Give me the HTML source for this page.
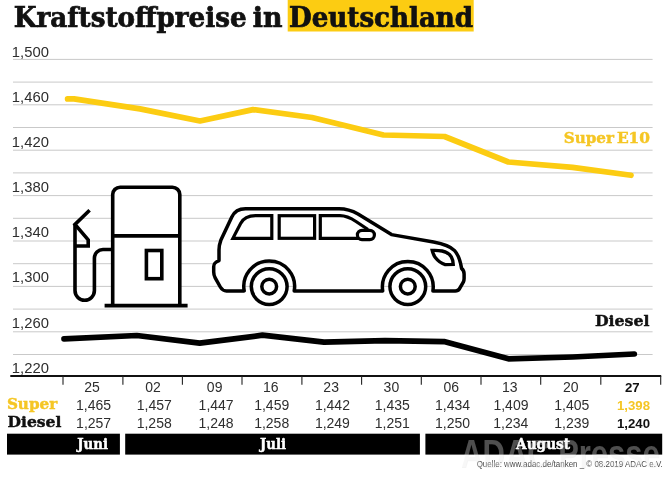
<!DOCTYPE html>
<html lang="de"><head><meta charset="utf-8"><title>Kraftstoffpreise in Deutschland</title>
<style>
html,body{margin:0;padding:0;background:#fff}
body{width:668px;height:482px;overflow:hidden}
svg{display:block}
.slab{font-family:"DejaVu Serif","Liberation Serif",serif;font-weight:bold}
.slabc{font-family:"DejaVu Serif Condensed","DejaVu Serif","Liberation Serif",serif;font-weight:bold}
.sans{font-family:"Liberation Sans",sans-serif}
.num{font-family:"Liberation Sans",sans-serif}
.numb{font-family:"Liberation Sans",sans-serif;font-weight:bold}
</style></head><body>
<svg width="668" height="482" viewBox="0 0 668 482">
<rect width="668" height="482" fill="#fff"/>

<rect x="287.7" y="0" width="186" height="31.5" fill="#FCCC12"/>
<text class="slabc" y="27" font-size="27.8" fill="#111" stroke="#111" stroke-width="0.7"><tspan x="13.78" textLength="232.79" lengthAdjust="spacingAndGlyphs">Kraftstoffpreise</tspan> <tspan x="252.89" textLength="29.62" lengthAdjust="spacingAndGlyphs">in</tspan> <tspan x="289.08" textLength="184.01" lengthAdjust="spacingAndGlyphs">Deutschland</tspan></text>
<g stroke="#c9c9c9" stroke-width="1">
<line x1="13" y1="59.4" x2="652.6" y2="59.4"/>
<line x1="13" y1="82.1" x2="652.6" y2="82.1"/>
<line x1="13" y1="104.8" x2="652.6" y2="104.8"/>
<line x1="13" y1="127.5" x2="652.6" y2="127.5"/>
<line x1="13" y1="150.2" x2="652.6" y2="150.2"/>
<line x1="13" y1="172.9" x2="652.6" y2="172.9"/>
<line x1="13" y1="195.6" x2="652.6" y2="195.6"/>
<line x1="13" y1="218.3" x2="652.6" y2="218.3"/>
<line x1="13" y1="241.0" x2="652.6" y2="241.0"/>
<line x1="13" y1="263.7" x2="652.6" y2="263.7"/>
<line x1="13" y1="286.4" x2="652.6" y2="286.4"/>
<line x1="13" y1="309.1" x2="652.6" y2="309.1"/>
<line x1="13" y1="331.8" x2="652.6" y2="331.8"/>
<line x1="13" y1="354.5" x2="652.6" y2="354.5"/>
</g>
<text class="num" x="11.86" y="56.6" font-size="14.8" fill="#2e2e2e">1,500</text>
<text class="num" x="11.86" y="101.8" font-size="14.8" fill="#2e2e2e">1,460</text>
<text class="num" x="11.86" y="146.9" font-size="14.8" fill="#2e2e2e">1,420</text>
<text class="num" x="11.86" y="192.0" font-size="14.8" fill="#2e2e2e">1,380</text>
<text class="num" x="11.86" y="237.2" font-size="14.8" fill="#2e2e2e">1,340</text>
<text class="num" x="11.86" y="282.4" font-size="14.8" fill="#2e2e2e">1,300</text>
<text class="num" x="11.86" y="327.5" font-size="14.8" fill="#2e2e2e">1,260</text>
<text class="num" x="11.86" y="372.7" font-size="14.8" fill="#2e2e2e">1,220</text>
<line x1="10.3" y1="375.9" x2="661.2" y2="375.9" stroke="#111" stroke-width="2"/>
<g stroke="#222" stroke-width="1.1">
<line x1="63" y1="376" x2="63" y2="384.7"/>
<line x1="122.9" y1="376" x2="122.9" y2="384.7"/>
<line x1="182.4" y1="376" x2="182.4" y2="384.7"/>
<line x1="242" y1="376" x2="242" y2="384.7"/>
<line x1="301.9" y1="376" x2="301.9" y2="384.7"/>
<line x1="361.6" y1="376" x2="361.6" y2="384.7"/>
<line x1="421.3" y1="376" x2="421.3" y2="384.7"/>
<line x1="481" y1="376" x2="481" y2="384.7"/>
<line x1="540.7" y1="376" x2="540.7" y2="384.7"/>
<line x1="600.8" y1="376" x2="600.8" y2="384.7"/>
<line x1="660.7" y1="376" x2="660.7" y2="384.7"/>
</g>
<polyline fill="none" stroke="#FCCC12" stroke-width="5.7" stroke-linecap="round" stroke-linejoin="round" points="67.6,98.9 74,98.9 140,108.9 200,121 253,109.6 312,117.5 383.5,135 444.5,136.5 508.4,162 572.5,167.4 631,175.3"/>
<text class="slab" y="143.2" font-size="15.6" fill="#F5C624" stroke="#F5C624" stroke-width="0.45"><tspan x="563.70" textLength="50.24" lengthAdjust="spacingAndGlyphs">Super</tspan> <tspan x="616.88" textLength="33.14" lengthAdjust="spacingAndGlyphs">E10</tspan></text>
<g fill="none" stroke="#000" stroke-width="3.6" stroke-linejoin="miter">
<path d="M112.7 305.5V194.6a7.4 7.4 0 0 1 7.4-7.4h52.3a7.4 7.4 0 0 1 7.4 7.4V305.5" fill="#fff"/>
<line x1="112.7" y1="235.9" x2="179.8" y2="235.9"/>
<line x1="104.6" y1="305.6" x2="187.6" y2="305.6"/>
<rect x="146.4" y="250.5" width="15.4" height="28.2" fill="#fff"/>
<path d="M112.7 249.5H103a8.6 8.6 0 0 0-8.6 8.6V290.6a9.7 9.7 0 0 1-19.4 0V224.4"/>
<path d="M89.6 210.3L75 224.4L88.2 239.8V246H75"/>
</g>
<g fill="none" stroke="#000" stroke-width="3.5" stroke-linejoin="round">
<path fill="#fff" d="M244.2 290.9H226.5C223.5 290.9 221.8 289.6 220.3 287L215.2 277.8C214.2 276 213.7 274.2 213.7 272V266.8C213.7 263.6 215 262.3 219 260.6V250C219 246 219.6 243.5 220.8 240.3L231.8 217C234.3 211.5 238.5 208.7 245.5 208.7H339C347 208.7 352 210.5 358 214L391.5 234.6L433.5 242C444.5 244 450.5 246.3 454.6 250.6C458.3 254.6 460.3 260.5 461.6 268.5C463.4 269.8 464.1 271.5 464.1 274V278.5C464.1 280 463.9 281 463.3 282.2L459.3 289C458.5 290.3 457.3 290.9 455.3 290.9H432.9A25.4 25.4 0 1 0 382.7 290.9H294.2A25.4 25.4 0 1 0 244.2 290.9Z"/>
</g>
<g fill="#fff" stroke="#000" stroke-width="3.5">
<circle cx="269.2" cy="286.6" r="17.9"/><circle cx="269.2" cy="286.6" r="7.4"/>
<circle cx="407.8" cy="286.6" r="17.9"/><circle cx="407.8" cy="286.6" r="7.4"/>
</g>
<g fill="none" stroke="#000" stroke-width="3.2" stroke-linejoin="miter">
<path d="M232.9 238.3H271.8V215.7H255.5C247.5 215.7 243.5 218 240.6 223.5Z"/>
<rect x="279.2" y="215.7" width="35.4" height="22.6"/>
<path d="M360 238.3H320.3V215.7H340C346 215.7 350 217.5 356 221.5L368 229.5"/>
<rect x="357.4" y="230.4" width="17" height="9.2" rx="4.6" fill="#fff"/>
<path stroke-width="3.4" d="M432.2 250.4C436 250.2 439 250.4 442.1 251C446.5 252 449.5 254 451.3 256.8C452.6 259 453.1 261.5 453.2 264.4L445.2 264.6C441.5 263.6 438 261 435.5 257.8C434 255.8 432.9 253.4 432.2 250.4Z"/>
</g>
<polyline fill="none" stroke="#000" stroke-width="5.7" stroke-linecap="round" stroke-linejoin="round" points="64,338.9 136.8,335.5 199.7,343.1 262.4,335.2 324,342.2 385,340.6 444,341.6 508.4,358.8 572.5,357 634.3,354"/>
<text class="slab" x="594.96" y="325.6" font-size="15.6" fill="#111" textLength="54.53" lengthAdjust="spacingAndGlyphs" stroke="#111" stroke-width="0.45">Diesel</text>
<text class="num" x="84.21" y="392" font-size="14" fill="#2e2e2e">25</text>
<text class="num" x="76.04" y="409.8" font-size="14" fill="#2e2e2e">1,465</text>
<text class="num" x="76.10" y="428.1" font-size="14" fill="#2e2e2e">1,257</text>
<text class="num" x="145.19" y="392" font-size="14" fill="#2e2e2e">02</text>
<text class="num" x="136.75" y="409.8" font-size="14" fill="#2e2e2e">1,457</text>
<text class="num" x="136.70" y="428.1" font-size="14" fill="#2e2e2e">1,258</text>
<text class="num" x="206.87" y="392" font-size="14" fill="#2e2e2e">09</text>
<text class="num" x="198.60" y="409.8" font-size="14" fill="#2e2e2e">1,447</text>
<text class="num" x="198.55" y="428.1" font-size="14" fill="#2e2e2e">1,248</text>
<text class="num" x="262.94" y="392" font-size="14" fill="#2e2e2e">16</text>
<text class="num" x="254.18" y="409.8" font-size="14" fill="#2e2e2e">1,459</text>
<text class="num" x="254.15" y="428.1" font-size="14" fill="#2e2e2e">1,258</text>
<text class="num" x="323.37" y="392" font-size="14" fill="#2e2e2e">23</text>
<text class="num" x="314.90" y="409.8" font-size="14" fill="#2e2e2e">1,442</text>
<text class="num" x="314.88" y="428.1" font-size="14" fill="#2e2e2e">1,249</text>
<text class="num" x="383.62" y="392" font-size="14" fill="#2e2e2e">30</text>
<text class="num" x="374.74" y="409.8" font-size="14" fill="#2e2e2e">1,435</text>
<text class="num" x="374.79" y="428.1" font-size="14" fill="#2e2e2e">1,251</text>
<text class="num" x="443.55" y="392" font-size="14" fill="#2e2e2e">06</text>
<text class="num" x="435.00" y="409.8" font-size="14" fill="#2e2e2e">1,434</text>
<text class="num" x="435.07" y="428.1" font-size="14" fill="#2e2e2e">1,250</text>
<text class="num" x="501.99" y="392" font-size="14" fill="#2e2e2e">13</text>
<text class="num" x="493.43" y="409.8" font-size="14" fill="#2e2e2e">1,409</text>
<text class="num" x="493.30" y="428.1" font-size="14" fill="#2e2e2e">1,234</text>
<text class="num" x="562.94" y="392" font-size="14" fill="#2e2e2e">20</text>
<text class="num" x="554.29" y="409.8" font-size="14" fill="#2e2e2e">1,405</text>
<text class="num" x="554.33" y="428.1" font-size="14" fill="#2e2e2e">1,239</text>
<text class="numb" x="624.92" y="392" font-size="13.2" fill="#111">27</text>
<text class="numb" x="616.97" y="409.8" font-size="13.2" fill="#F5C624">1,398</text>
<text class="numb" x="617.04" y="428.1" font-size="13.2" fill="#111">1,240</text>
<text class="slab" x="6.90" y="409.4" font-size="15.6" fill="#F5C624" textLength="50.35" lengthAdjust="spacingAndGlyphs" stroke="#F5C624" stroke-width="0.45">Super</text>
<text class="slab" x="7.47" y="427.2" font-size="15.6" fill="#111" textLength="53.92" lengthAdjust="spacingAndGlyphs" stroke="#111" stroke-width="0.45">Diesel</text>
<rect x="7" y="433.7" width="112.9" height="20.9" fill="#000"/>
<rect x="125.2" y="433.7" width="294.7" height="20.9" fill="#000"/>
<rect x="425.4" y="433.7" width="236.8" height="20.9" fill="#000"/>
<text class="slabc" x="77.18" y="449.3" font-size="15.4" fill="#fff" textLength="30.85" lengthAdjust="spacingAndGlyphs" stroke="#fff" stroke-width="0.45">Juni</text>
<text class="slabc" x="260.07" y="449.3" font-size="15.4" fill="#fff" textLength="26.06" lengthAdjust="spacingAndGlyphs" stroke="#fff" stroke-width="0.45">Juli</text>
<text class="slabc" x="516.10" y="449.3" font-size="15.4" fill="#fff" textLength="53.97" lengthAdjust="spacingAndGlyphs" stroke="#fff" stroke-width="0.45">August</text>
<text class="sans" x="476.63" y="467" font-size="9" fill="#4a4a4a" textLength="186.09" lengthAdjust="spacingAndGlyphs">Quelle: www.adac.de/tanken _ © 08.2019 ADAC e.V.</text>
<g font-family="Liberation Sans, sans-serif" font-weight="bold" font-size="31" transform="translate(460.23,467) scale(1,1.26)">
<text x="0.8" y="0.7" fill="#000" fill-opacity="0.045" textLength="199.43" lengthAdjust="spacingAndGlyphs">ADAC Presse</text>
<text x="0" y="0" fill="#fff" fill-opacity="0.31" textLength="199.43" lengthAdjust="spacingAndGlyphs">ADAC Presse</text>
</g>
</svg></body></html>
